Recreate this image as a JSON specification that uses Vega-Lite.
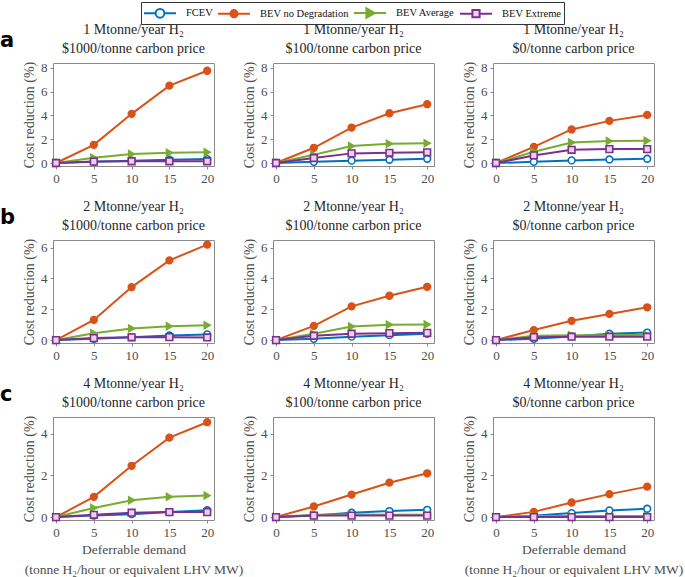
{
"$schema": "https://vega.github.io/schema/vega-lite/v6.json",
"padding": {"left": 0, "top": 1, "right": 0, "bottom": 2},
"config": {
  "style": {"guide-label": {"font": "Liberation Serif"}, "guide-title": {"font": "Liberation Serif"}, "group-title": {"font": "Liberation Serif"}},
  "view": {"stroke": "#8a8a8a", "strokeWidth": 1},
  "axis": {"grid": false, "domain": false, "labelFont": "Liberation Serif", "labelFontSize": 13, "labelColor": "#4d4d4d", "titleFont": "Liberation Serif", "titleFontSize": 14, "titleColor": "#4d4d4d", "titleFontWeight": "normal", "tickColor": "#8a8a8a", "tickSize": 3, "labelPadding": 3},
  "title": {"font": "Liberation Serif", "fontSize": 14, "fontWeight": "normal", "color": "#262626", "lineHeight": 19, "offset": 5},
  "legend": {"orient": "none", "legendX": 88, "legendY": -61, "direction": "horizontal", "title": null, "strokeColor": "#333333", "padding": 2, "labelFont": "Liberation Serif", "labelFontSize": 10.5, "labelColor": "#111111", "symbolSize": 256, "symbolStrokeWidth": 2, "columnPadding": 1, "labelOffset": 17, "symbolOffset": 8}
},
"data": {"values": [
{"panel":"a1","series":"FCEV","x":0,"y":0},{"panel":"a1","series":"FCEV","x":5,"y":0.1},{"panel":"a1","series":"FCEV","x":10,"y":0.2},{"panel":"a1","series":"FCEV","x":15,"y":0.28},{"panel":"a1","series":"FCEV","x":20,"y":0.33},
{"panel":"a1","series":"BEV no Degradation","x":0,"y":0},{"panel":"a1","series":"BEV no Degradation","x":5,"y":1.53},{"panel":"a1","series":"BEV no Degradation","x":10,"y":4.13},{"panel":"a1","series":"BEV no Degradation","x":15,"y":6.5},{"panel":"a1","series":"BEV no Degradation","x":20,"y":7.75},
{"panel":"a1","series":"BEV Average","x":0,"y":0},{"panel":"a1","series":"BEV Average","x":5,"y":0.45},{"panel":"a1","series":"BEV Average","x":10,"y":0.75},{"panel":"a1","series":"BEV Average","x":15,"y":0.86},{"panel":"a1","series":"BEV Average","x":20,"y":0.9},
{"panel":"a1","series":"BEV Extreme","x":0,"y":0},{"panel":"a1","series":"BEV Extreme","x":5,"y":0.12},{"panel":"a1","series":"BEV Extreme","x":10,"y":0.15},{"panel":"a1","series":"BEV Extreme","x":15,"y":0.15},{"panel":"a1","series":"BEV Extreme","x":20,"y":0.15},
{"panel":"a2","series":"FCEV","x":0,"y":0},{"panel":"a2","series":"FCEV","x":5,"y":0.1},{"panel":"a2","series":"FCEV","x":10,"y":0.2},{"panel":"a2","series":"FCEV","x":15,"y":0.27},{"panel":"a2","series":"FCEV","x":20,"y":0.36},
{"panel":"a2","series":"BEV no Degradation","x":0,"y":0},{"panel":"a2","series":"BEV no Degradation","x":5,"y":1.28},{"panel":"a2","series":"BEV no Degradation","x":10,"y":2.98},{"panel":"a2","series":"BEV no Degradation","x":15,"y":4.18},{"panel":"a2","series":"BEV no Degradation","x":20,"y":4.94},
{"panel":"a2","series":"BEV Average","x":0,"y":0},{"panel":"a2","series":"BEV Average","x":5,"y":0.7},{"panel":"a2","series":"BEV Average","x":10,"y":1.42},{"panel":"a2","series":"BEV Average","x":15,"y":1.62},{"panel":"a2","series":"BEV Average","x":20,"y":1.67},
{"panel":"a2","series":"BEV Extreme","x":0,"y":0},{"panel":"a2","series":"BEV Extreme","x":5,"y":0.42},{"panel":"a2","series":"BEV Extreme","x":10,"y":0.81},{"panel":"a2","series":"BEV Extreme","x":15,"y":0.86},{"panel":"a2","series":"BEV Extreme","x":20,"y":0.9},
{"panel":"a3","series":"FCEV","x":0,"y":0},{"panel":"a3","series":"FCEV","x":5,"y":0.1},{"panel":"a3","series":"FCEV","x":10,"y":0.22},{"panel":"a3","series":"FCEV","x":15,"y":0.3},{"panel":"a3","series":"FCEV","x":20,"y":0.36},
{"panel":"a3","series":"BEV no Degradation","x":0,"y":0},{"panel":"a3","series":"BEV no Degradation","x":5,"y":1.36},{"panel":"a3","series":"BEV no Degradation","x":10,"y":2.82},{"panel":"a3","series":"BEV no Degradation","x":15,"y":3.54},{"panel":"a3","series":"BEV no Degradation","x":20,"y":4.04},
{"panel":"a3","series":"BEV Average","x":0,"y":0},{"panel":"a3","series":"BEV Average","x":5,"y":0.95},{"panel":"a3","series":"BEV Average","x":10,"y":1.73},{"panel":"a3","series":"BEV Average","x":15,"y":1.84},{"panel":"a3","series":"BEV Average","x":20,"y":1.87},
{"panel":"a3","series":"BEV Extreme","x":0,"y":0},{"panel":"a3","series":"BEV Extreme","x":5,"y":0.64},{"panel":"a3","series":"BEV Extreme","x":10,"y":1.11},{"panel":"a3","series":"BEV Extreme","x":15,"y":1.17},{"panel":"a3","series":"BEV Extreme","x":20,"y":1.17},
{"panel":"b1","series":"FCEV","x":0,"y":0},{"panel":"b1","series":"FCEV","x":5,"y":0.08},{"panel":"b1","series":"FCEV","x":10,"y":0.19},{"panel":"b1","series":"FCEV","x":15,"y":0.3},{"panel":"b1","series":"FCEV","x":20,"y":0.37},
{"panel":"b1","series":"BEV no Degradation","x":0,"y":0},{"panel":"b1","series":"BEV no Degradation","x":5,"y":1.31},{"panel":"b1","series":"BEV no Degradation","x":10,"y":3.44},{"panel":"b1","series":"BEV no Degradation","x":15,"y":5.18},{"panel":"b1","series":"BEV no Degradation","x":20,"y":6.2},
{"panel":"b1","series":"BEV Average","x":0,"y":0},{"panel":"b1","series":"BEV Average","x":5,"y":0.45},{"panel":"b1","series":"BEV Average","x":10,"y":0.75},{"panel":"b1","series":"BEV Average","x":15,"y":0.9},{"panel":"b1","series":"BEV Average","x":20,"y":0.97},
{"panel":"b1","series":"BEV Extreme","x":0,"y":0},{"panel":"b1","series":"BEV Extreme","x":5,"y":0.13},{"panel":"b1","series":"BEV Extreme","x":10,"y":0.18},{"panel":"b1","series":"BEV Extreme","x":15,"y":0.19},{"panel":"b1","series":"BEV Extreme","x":20,"y":0.17},
{"panel":"b2","series":"FCEV","x":0,"y":0},{"panel":"b2","series":"FCEV","x":5,"y":0.08},{"panel":"b2","series":"FCEV","x":10,"y":0.22},{"panel":"b2","series":"FCEV","x":15,"y":0.32},{"panel":"b2","series":"FCEV","x":20,"y":0.41},
{"panel":"b2","series":"BEV no Degradation","x":0,"y":0},{"panel":"b2","series":"BEV no Degradation","x":5,"y":0.92},{"panel":"b2","series":"BEV no Degradation","x":10,"y":2.19},{"panel":"b2","series":"BEV no Degradation","x":15,"y":2.88},{"panel":"b2","series":"BEV no Degradation","x":20,"y":3.46},
{"panel":"b2","series":"BEV Average","x":0,"y":0},{"panel":"b2","series":"BEV Average","x":5,"y":0.41},{"panel":"b2","series":"BEV Average","x":10,"y":0.88},{"panel":"b2","series":"BEV Average","x":15,"y":1.0},{"panel":"b2","series":"BEV Average","x":20,"y":1.01},
{"panel":"b2","series":"BEV Extreme","x":0,"y":0},{"panel":"b2","series":"BEV Extreme","x":5,"y":0.28},{"panel":"b2","series":"BEV Extreme","x":10,"y":0.41},{"panel":"b2","series":"BEV Extreme","x":15,"y":0.45},{"panel":"b2","series":"BEV Extreme","x":20,"y":0.47},
{"panel":"b3","series":"FCEV","x":0,"y":0},{"panel":"b3","series":"FCEV","x":5,"y":0.08},{"panel":"b3","series":"FCEV","x":10,"y":0.24},{"panel":"b3","series":"FCEV","x":15,"y":0.41},{"panel":"b3","series":"FCEV","x":20,"y":0.49},
{"panel":"b3","series":"BEV no Degradation","x":0,"y":0},{"panel":"b3","series":"BEV no Degradation","x":5,"y":0.65},{"panel":"b3","series":"BEV no Degradation","x":10,"y":1.25},{"panel":"b3","series":"BEV no Degradation","x":15,"y":1.7},{"panel":"b3","series":"BEV no Degradation","x":20,"y":2.13},
{"panel":"b3","series":"BEV Average","x":0,"y":0},{"panel":"b3","series":"BEV Average","x":5,"y":0.28},{"panel":"b3","series":"BEV Average","x":10,"y":0.32},{"panel":"b3","series":"BEV Average","x":15,"y":0.32},{"panel":"b3","series":"BEV Average","x":20,"y":0.34},
{"panel":"b3","series":"BEV Extreme","x":0,"y":0},{"panel":"b3","series":"BEV Extreme","x":5,"y":0.19},{"panel":"b3","series":"BEV Extreme","x":10,"y":0.22},{"panel":"b3","series":"BEV Extreme","x":15,"y":0.22},{"panel":"b3","series":"BEV Extreme","x":20,"y":0.22},
{"panel":"c1","series":"FCEV","x":0,"y":0},{"panel":"c1","series":"FCEV","x":5,"y":0.07},{"panel":"c1","series":"FCEV","x":10,"y":0.14},{"panel":"c1","series":"FCEV","x":15,"y":0.24},{"panel":"c1","series":"FCEV","x":20,"y":0.33},
{"panel":"c1","series":"BEV no Degradation","x":0,"y":0},{"panel":"c1","series":"BEV no Degradation","x":5,"y":0.97},{"panel":"c1","series":"BEV no Degradation","x":10,"y":2.46},{"panel":"c1","series":"BEV no Degradation","x":15,"y":3.81},{"panel":"c1","series":"BEV no Degradation","x":20,"y":4.55},
{"panel":"c1","series":"BEV Average","x":0,"y":0},{"panel":"c1","series":"BEV Average","x":5,"y":0.44},{"panel":"c1","series":"BEV Average","x":10,"y":0.81},{"panel":"c1","series":"BEV Average","x":15,"y":0.97},{"panel":"c1","series":"BEV Average","x":20,"y":1.03},
{"panel":"c1","series":"BEV Extreme","x":0,"y":0},{"panel":"c1","series":"BEV Extreme","x":5,"y":0.11},{"panel":"c1","series":"BEV Extreme","x":10,"y":0.21},{"panel":"c1","series":"BEV Extreme","x":15,"y":0.24},{"panel":"c1","series":"BEV Extreme","x":20,"y":0.24},
{"panel":"c2","series":"FCEV","x":0,"y":0},{"panel":"c2","series":"FCEV","x":5,"y":0.08},{"panel":"c2","series":"FCEV","x":10,"y":0.21},{"panel":"c2","series":"FCEV","x":15,"y":0.29},{"panel":"c2","series":"FCEV","x":20,"y":0.35},
{"panel":"c2","series":"BEV no Degradation","x":0,"y":0},{"panel":"c2","series":"BEV no Degradation","x":5,"y":0.51},{"panel":"c2","series":"BEV no Degradation","x":10,"y":1.08},{"panel":"c2","series":"BEV no Degradation","x":15,"y":1.65},{"panel":"c2","series":"BEV no Degradation","x":20,"y":2.1},
{"panel":"c2","series":"BEV Average","x":0,"y":0},{"panel":"c2","series":"BEV Average","x":5,"y":0.11},{"panel":"c2","series":"BEV Average","x":10,"y":0.12},{"panel":"c2","series":"BEV Average","x":15,"y":0.11},{"panel":"c2","series":"BEV Average","x":20,"y":0.11},
{"panel":"c2","series":"BEV Extreme","x":0,"y":0},{"panel":"c2","series":"BEV Extreme","x":5,"y":0.07},{"panel":"c2","series":"BEV Extreme","x":10,"y":0.07},{"panel":"c2","series":"BEV Extreme","x":15,"y":0.07},{"panel":"c2","series":"BEV Extreme","x":20,"y":0.07},
{"panel":"c3","series":"FCEV","x":0,"y":0},{"panel":"c3","series":"FCEV","x":5,"y":0.06},{"panel":"c3","series":"FCEV","x":10,"y":0.19},{"panel":"c3","series":"FCEV","x":15,"y":0.32},{"panel":"c3","series":"FCEV","x":20,"y":0.4},
{"panel":"c3","series":"BEV no Degradation","x":0,"y":0},{"panel":"c3","series":"BEV no Degradation","x":5,"y":0.25},{"panel":"c3","series":"BEV no Degradation","x":10,"y":0.7},{"panel":"c3","series":"BEV no Degradation","x":15,"y":1.1},{"panel":"c3","series":"BEV no Degradation","x":20,"y":1.46},
{"panel":"c3","series":"BEV Average","x":0,"y":0},{"panel":"c3","series":"BEV Average","x":5,"y":0.05},{"panel":"c3","series":"BEV Average","x":10,"y":0.05},{"panel":"c3","series":"BEV Average","x":15,"y":0.05},{"panel":"c3","series":"BEV Average","x":20,"y":0.05},
{"panel":"c3","series":"BEV Extreme","x":0,"y":0},{"panel":"c3","series":"BEV Extreme","x":5,"y":0.0},{"panel":"c3","series":"BEV Extreme","x":10,"y":0.0},{"panel":"c3","series":"BEV Extreme","x":15,"y":0.0},{"panel":"c3","series":"BEV Extreme","x":20,"y":0.0}
]},
"spacing": 13,
"resolve": {"scale": {"color": "shared"}},
"vconcat": [
{"title": {"text": "a", "anchor": "start", "frame": "bounds", "font": "DejaVu Sans", "fontSize": 21, "fontWeight": "bold", "color": "#000000", "dx": -22, "dy": 33},
 "bounds": "flush", "spacing": 59,
 "resolve": {"scale": {"color": "shared"}},
 "hconcat": [
 {"width": 161, "height": 103, "title": {"text": ["1 Mtonne/year H₂", "$1000/tonne carbon price"]},
  "transform": [{"filter": "datum.panel === 'a1'"}],
  "encoding": {"x": {"field": "x", "type": "quantitative", "scale": {"domain": [-0.4, 20.9], "nice": false, "zero": false}, "axis": {"values": [0, 5, 10, 15, 20], "title": null}},
               "y": {"field": "y", "type": "quantitative", "scale": {"domain": [-0.25, 8.4], "nice": false, "zero": false}, "axis": {"values": [0, 2, 4, 6, 8], "title": "Cost reduction (%)"}}},
  "layer": [
   {"mark": {"type": "line", "strokeWidth": 2}, "encoding": {"color": {"field": "series", "type": "nominal", "scale": {"domain": ["FCEV", "BEV no Degradation", "BEV Average", "BEV Extreme"], "range": ["#0072BD", "#D95319", "#77AC30", "#7E2F8E"]},
     "legend": {"encode": {"symbols": {"update": {
       "shape": {"signal": "datum.value === 'FCEV' ? 'M-2,0H-0.55M0.55,0H2M0.55,0A0.55,0.55,0,1,1,-0.55,0A0.55,0.55,0,1,1,0.55,0' : datum.value === 'BEV no Degradation' ? 'M-2,0H2M0.45,0A0.45,0.45,0,1,1,-0.45,0A0.45,0.45,0,1,1,0.45,0' : datum.value === 'BEV Average' ? 'M-2,0H2M-0.45,-0.6L0.6,0L-0.45,0.6Z' : 'M-2,0H-0.45M0.45,0H2M-0.45,-0.45H0.45V0.45H-0.45Z'"},
       "fill": {"signal": "datum.value === 'FCEV' ? '#ffffff' : datum.value === 'BEV no Degradation' ? '#D95319' : datum.value === 'BEV Average' ? '#77AC30' : '#e6d5ea'"}}}}}}}},
   {"mark": {"type": "point", "filled": true, "strokeWidth": 1.6, "size": 45, "opacity": 1}, "encoding": {
     "shape": {"condition": [{"test": "datum.series === 'BEV Average'", "value": "triangle-right"}, {"test": "datum.series === 'BEV Extreme'", "value": "square"}], "value": "circle"},
     "fill": {"condition": [{"test": "datum.series === 'FCEV'", "value": "#ffffff"}, {"test": "datum.series === 'BEV no Degradation'", "value": "#D95319"}, {"test": "datum.series === 'BEV Average'", "value": "#77AC30"}], "value": "#e6d5ea"},
     "stroke": {"condition": [{"test": "datum.series === 'FCEV'", "value": "#0072BD"}, {"test": "datum.series === 'BEV no Degradation'", "value": "#D95319"}, {"test": "datum.series === 'BEV Average'", "value": "#77AC30"}], "value": "#7E2F8E"}}}
  ]},
 {"width": 161, "height": 103, "title": {"text": ["1 Mtonne/year H₂", "$100/tonne carbon price"]},
  "transform": [{"filter": "datum.panel === 'a2'"}],
  "encoding": {"x": {"field": "x", "type": "quantitative", "scale": {"domain": [-0.4, 20.9], "nice": false, "zero": false}, "axis": {"values": [0, 5, 10, 15, 20], "title": null}},
               "y": {"field": "y", "type": "quantitative", "scale": {"domain": [-0.25, 8.4], "nice": false, "zero": false}, "axis": {"values": [0, 2, 4, 6, 8], "title": "Cost reduction (%)"}}},
  "layer": [
   {"mark": {"type": "line", "strokeWidth": 2}, "encoding": {"color": {"field": "series", "type": "nominal", "scale": {"domain": ["FCEV", "BEV no Degradation", "BEV Average", "BEV Extreme"], "range": ["#0072BD", "#D95319", "#77AC30", "#7E2F8E"]}}}},
   {"mark": {"type": "point", "filled": true, "strokeWidth": 1.6, "size": 45, "opacity": 1}, "encoding": {
     "shape": {"condition": [{"test": "datum.series === 'BEV Average'", "value": "triangle-right"}, {"test": "datum.series === 'BEV Extreme'", "value": "square"}], "value": "circle"},
     "fill": {"condition": [{"test": "datum.series === 'FCEV'", "value": "#ffffff"}, {"test": "datum.series === 'BEV no Degradation'", "value": "#D95319"}, {"test": "datum.series === 'BEV Average'", "value": "#77AC30"}], "value": "#e6d5ea"},
     "stroke": {"condition": [{"test": "datum.series === 'FCEV'", "value": "#0072BD"}, {"test": "datum.series === 'BEV no Degradation'", "value": "#D95319"}, {"test": "datum.series === 'BEV Average'", "value": "#77AC30"}], "value": "#7E2F8E"}}}
  ]},
 {"width": 161, "height": 103, "title": {"text": ["1 Mtonne/year H₂", "$0/tonne carbon price"]},
  "transform": [{"filter": "datum.panel === 'a3'"}],
  "encoding": {"x": {"field": "x", "type": "quantitative", "scale": {"domain": [-0.4, 20.9], "nice": false, "zero": false}, "axis": {"values": [0, 5, 10, 15, 20], "title": null}},
               "y": {"field": "y", "type": "quantitative", "scale": {"domain": [-0.25, 8.4], "nice": false, "zero": false}, "axis": {"values": [0, 2, 4, 6, 8], "title": "Cost reduction (%)"}}},
  "layer": [
   {"mark": {"type": "line", "strokeWidth": 2}, "encoding": {"color": {"field": "series", "type": "nominal", "scale": {"domain": ["FCEV", "BEV no Degradation", "BEV Average", "BEV Extreme"], "range": ["#0072BD", "#D95319", "#77AC30", "#7E2F8E"]}}}},
   {"mark": {"type": "point", "filled": true, "strokeWidth": 1.6, "size": 45, "opacity": 1}, "encoding": {
     "shape": {"condition": [{"test": "datum.series === 'BEV Average'", "value": "triangle-right"}, {"test": "datum.series === 'BEV Extreme'", "value": "square"}], "value": "circle"},
     "fill": {"condition": [{"test": "datum.series === 'FCEV'", "value": "#ffffff"}, {"test": "datum.series === 'BEV no Degradation'", "value": "#D95319"}, {"test": "datum.series === 'BEV Average'", "value": "#77AC30"}], "value": "#e6d5ea"},
     "stroke": {"condition": [{"test": "datum.series === 'FCEV'", "value": "#0072BD"}, {"test": "datum.series === 'BEV no Degradation'", "value": "#D95319"}, {"test": "datum.series === 'BEV Average'", "value": "#77AC30"}], "value": "#7E2F8E"}}}
  ]}
 ]},
{"title": {"text": "b", "anchor": "start", "frame": "bounds", "font": "DejaVu Sans", "fontSize": 21, "fontWeight": "bold", "color": "#000000", "dx": -22, "dy": 33},
 "bounds": "flush", "spacing": 59,
 "resolve": {"scale": {"color": "shared"}},
 "hconcat": [
 {"width": 161, "height": 103, "title": {"text": ["2 Mtonne/year H₂", "$1000/tonne carbon price"]},
  "transform": [{"filter": "datum.panel === 'b1'"}],
  "encoding": {"x": {"field": "x", "type": "quantitative", "scale": {"domain": [-0.4, 20.9], "nice": false, "zero": false}, "axis": {"values": [0, 5, 10, 15, 20], "title": null}},
               "y": {"field": "y", "type": "quantitative", "scale": {"domain": [-0.19, 6.5], "nice": false, "zero": false}, "axis": {"values": [0, 2, 4, 6], "title": "Cost reduction (%)"}}},
  "layer": [
   {"mark": {"type": "line", "strokeWidth": 2}, "encoding": {"color": {"field": "series", "type": "nominal", "scale": {"domain": ["FCEV", "BEV no Degradation", "BEV Average", "BEV Extreme"], "range": ["#0072BD", "#D95319", "#77AC30", "#7E2F8E"]}}}},
   {"mark": {"type": "point", "filled": true, "strokeWidth": 1.6, "size": 45, "opacity": 1}, "encoding": {
     "shape": {"condition": [{"test": "datum.series === 'BEV Average'", "value": "triangle-right"}, {"test": "datum.series === 'BEV Extreme'", "value": "square"}], "value": "circle"},
     "fill": {"condition": [{"test": "datum.series === 'FCEV'", "value": "#ffffff"}, {"test": "datum.series === 'BEV no Degradation'", "value": "#D95319"}, {"test": "datum.series === 'BEV Average'", "value": "#77AC30"}], "value": "#e6d5ea"},
     "stroke": {"condition": [{"test": "datum.series === 'FCEV'", "value": "#0072BD"}, {"test": "datum.series === 'BEV no Degradation'", "value": "#D95319"}, {"test": "datum.series === 'BEV Average'", "value": "#77AC30"}], "value": "#7E2F8E"}}}
  ]},
 {"width": 161, "height": 103, "title": {"text": ["2 Mtonne/year H₂", "$100/tonne carbon price"]},
  "transform": [{"filter": "datum.panel === 'b2'"}],
  "encoding": {"x": {"field": "x", "type": "quantitative", "scale": {"domain": [-0.4, 20.9], "nice": false, "zero": false}, "axis": {"values": [0, 5, 10, 15, 20], "title": null}},
               "y": {"field": "y", "type": "quantitative", "scale": {"domain": [-0.19, 6.5], "nice": false, "zero": false}, "axis": {"values": [0, 2, 4, 6], "title": "Cost reduction (%)"}}},
  "layer": [
   {"mark": {"type": "line", "strokeWidth": 2}, "encoding": {"color": {"field": "series", "type": "nominal", "scale": {"domain": ["FCEV", "BEV no Degradation", "BEV Average", "BEV Extreme"], "range": ["#0072BD", "#D95319", "#77AC30", "#7E2F8E"]}}}},
   {"mark": {"type": "point", "filled": true, "strokeWidth": 1.6, "size": 45, "opacity": 1}, "encoding": {
     "shape": {"condition": [{"test": "datum.series === 'BEV Average'", "value": "triangle-right"}, {"test": "datum.series === 'BEV Extreme'", "value": "square"}], "value": "circle"},
     "fill": {"condition": [{"test": "datum.series === 'FCEV'", "value": "#ffffff"}, {"test": "datum.series === 'BEV no Degradation'", "value": "#D95319"}, {"test": "datum.series === 'BEV Average'", "value": "#77AC30"}], "value": "#e6d5ea"},
     "stroke": {"condition": [{"test": "datum.series === 'FCEV'", "value": "#0072BD"}, {"test": "datum.series === 'BEV no Degradation'", "value": "#D95319"}, {"test": "datum.series === 'BEV Average'", "value": "#77AC30"}], "value": "#7E2F8E"}}}
  ]},
 {"width": 161, "height": 103, "title": {"text": ["2 Mtonne/year H₂", "$0/tonne carbon price"]},
  "transform": [{"filter": "datum.panel === 'b3'"}],
  "encoding": {"x": {"field": "x", "type": "quantitative", "scale": {"domain": [-0.4, 20.9], "nice": false, "zero": false}, "axis": {"values": [0, 5, 10, 15, 20], "title": null}},
               "y": {"field": "y", "type": "quantitative", "scale": {"domain": [-0.19, 6.5], "nice": false, "zero": false}, "axis": {"values": [0, 2, 4, 6], "title": "Cost reduction (%)"}}},
  "layer": [
   {"mark": {"type": "line", "strokeWidth": 2}, "encoding": {"color": {"field": "series", "type": "nominal", "scale": {"domain": ["FCEV", "BEV no Degradation", "BEV Average", "BEV Extreme"], "range": ["#0072BD", "#D95319", "#77AC30", "#7E2F8E"]}}}},
   {"mark": {"type": "point", "filled": true, "strokeWidth": 1.6, "size": 45, "opacity": 1}, "encoding": {
     "shape": {"condition": [{"test": "datum.series === 'BEV Average'", "value": "triangle-right"}, {"test": "datum.series === 'BEV Extreme'", "value": "square"}], "value": "circle"},
     "fill": {"condition": [{"test": "datum.series === 'FCEV'", "value": "#ffffff"}, {"test": "datum.series === 'BEV no Degradation'", "value": "#D95319"}, {"test": "datum.series === 'BEV Average'", "value": "#77AC30"}], "value": "#e6d5ea"},
     "stroke": {"condition": [{"test": "datum.series === 'FCEV'", "value": "#0072BD"}, {"test": "datum.series === 'BEV no Degradation'", "value": "#D95319"}, {"test": "datum.series === 'BEV Average'", "value": "#77AC30"}], "value": "#7E2F8E"}}}
  ]}
 ]},
{"title": {"text": "c", "anchor": "start", "frame": "bounds", "font": "DejaVu Sans", "fontSize": 21, "fontWeight": "bold", "color": "#000000", "dx": -22, "dy": 33},
 "bounds": "flush", "spacing": 59,
 "resolve": {"scale": {"color": "shared"}},
 "hconcat": [
 {"width": 161, "height": 103, "title": {"text": ["4 Mtonne/year H₂", "$1000/tonne carbon price"]},
  "transform": [{"filter": "datum.panel === 'c1'"}],
  "encoding": {"x": {"field": "x", "type": "quantitative", "scale": {"domain": [-0.4, 20.9], "nice": false, "zero": false}, "axis": {"values": [0, 5, 10, 15, 20], "title": ["Deferrable demand", "(tonne H₂/hour or equivalent LHV MW)"], "titleLineHeight": 20, "titleFontSize": 13.5, "titlePadding": 3}},
               "y": {"field": "y", "type": "quantitative", "scale": {"domain": [-0.14, 4.8], "nice": false, "zero": false}, "axis": {"values": [0, 2, 4], "title": "Cost reduction (%)"}}},
  "layer": [
   {"mark": {"type": "line", "strokeWidth": 2}, "encoding": {"color": {"field": "series", "type": "nominal", "scale": {"domain": ["FCEV", "BEV no Degradation", "BEV Average", "BEV Extreme"], "range": ["#0072BD", "#D95319", "#77AC30", "#7E2F8E"]}}}},
   {"mark": {"type": "point", "filled": true, "strokeWidth": 1.6, "size": 45, "opacity": 1}, "encoding": {
     "shape": {"condition": [{"test": "datum.series === 'BEV Average'", "value": "triangle-right"}, {"test": "datum.series === 'BEV Extreme'", "value": "square"}], "value": "circle"},
     "fill": {"condition": [{"test": "datum.series === 'FCEV'", "value": "#ffffff"}, {"test": "datum.series === 'BEV no Degradation'", "value": "#D95319"}, {"test": "datum.series === 'BEV Average'", "value": "#77AC30"}], "value": "#e6d5ea"},
     "stroke": {"condition": [{"test": "datum.series === 'FCEV'", "value": "#0072BD"}, {"test": "datum.series === 'BEV no Degradation'", "value": "#D95319"}, {"test": "datum.series === 'BEV Average'", "value": "#77AC30"}], "value": "#7E2F8E"}}}
  ]},
 {"width": 161, "height": 103, "title": {"text": ["4 Mtonne/year H₂", "$100/tonne carbon price"]},
  "transform": [{"filter": "datum.panel === 'c2'"}],
  "encoding": {"x": {"field": "x", "type": "quantitative", "scale": {"domain": [-0.4, 20.9], "nice": false, "zero": false}, "axis": {"values": [0, 5, 10, 15, 20], "title": null}},
               "y": {"field": "y", "type": "quantitative", "scale": {"domain": [-0.14, 4.8], "nice": false, "zero": false}, "axis": {"values": [0, 2, 4], "title": "Cost reduction (%)"}}},
  "layer": [
   {"mark": {"type": "line", "strokeWidth": 2}, "encoding": {"color": {"field": "series", "type": "nominal", "scale": {"domain": ["FCEV", "BEV no Degradation", "BEV Average", "BEV Extreme"], "range": ["#0072BD", "#D95319", "#77AC30", "#7E2F8E"]}}}},
   {"mark": {"type": "point", "filled": true, "strokeWidth": 1.6, "size": 45, "opacity": 1}, "encoding": {
     "shape": {"condition": [{"test": "datum.series === 'BEV Average'", "value": "triangle-right"}, {"test": "datum.series === 'BEV Extreme'", "value": "square"}], "value": "circle"},
     "fill": {"condition": [{"test": "datum.series === 'FCEV'", "value": "#ffffff"}, {"test": "datum.series === 'BEV no Degradation'", "value": "#D95319"}, {"test": "datum.series === 'BEV Average'", "value": "#77AC30"}], "value": "#e6d5ea"},
     "stroke": {"condition": [{"test": "datum.series === 'FCEV'", "value": "#0072BD"}, {"test": "datum.series === 'BEV no Degradation'", "value": "#D95319"}, {"test": "datum.series === 'BEV Average'", "value": "#77AC30"}], "value": "#7E2F8E"}}}
  ]},
 {"width": 161, "height": 103, "title": {"text": ["4 Mtonne/year H₂", "$0/tonne carbon price"]},
  "transform": [{"filter": "datum.panel === 'c3'"}],
  "encoding": {"x": {"field": "x", "type": "quantitative", "scale": {"domain": [-0.4, 20.9], "nice": false, "zero": false}, "axis": {"values": [0, 5, 10, 15, 20], "title": ["Deferrable demand", "(tonne H₂/hour or equivalent LHV MW)"], "titleLineHeight": 20, "titleFontSize": 13.5, "titlePadding": 3}},
               "y": {"field": "y", "type": "quantitative", "scale": {"domain": [-0.14, 4.8], "nice": false, "zero": false}, "axis": {"values": [0, 2, 4], "title": "Cost reduction (%)"}}},
  "layer": [
   {"mark": {"type": "line", "strokeWidth": 2}, "encoding": {"color": {"field": "series", "type": "nominal", "scale": {"domain": ["FCEV", "BEV no Degradation", "BEV Average", "BEV Extreme"], "range": ["#0072BD", "#D95319", "#77AC30", "#7E2F8E"]}}}},
   {"mark": {"type": "point", "filled": true, "strokeWidth": 1.6, "size": 45, "opacity": 1}, "encoding": {
     "shape": {"condition": [{"test": "datum.series === 'BEV Average'", "value": "triangle-right"}, {"test": "datum.series === 'BEV Extreme'", "value": "square"}], "value": "circle"},
     "fill": {"condition": [{"test": "datum.series === 'FCEV'", "value": "#ffffff"}, {"test": "datum.series === 'BEV no Degradation'", "value": "#D95319"}, {"test": "datum.series === 'BEV Average'", "value": "#77AC30"}], "value": "#e6d5ea"},
     "stroke": {"condition": [{"test": "datum.series === 'FCEV'", "value": "#0072BD"}, {"test": "datum.series === 'BEV no Degradation'", "value": "#D95319"}, {"test": "datum.series === 'BEV Average'", "value": "#77AC30"}], "value": "#7E2F8E"}}}
  ]}
 ]}
]
}
